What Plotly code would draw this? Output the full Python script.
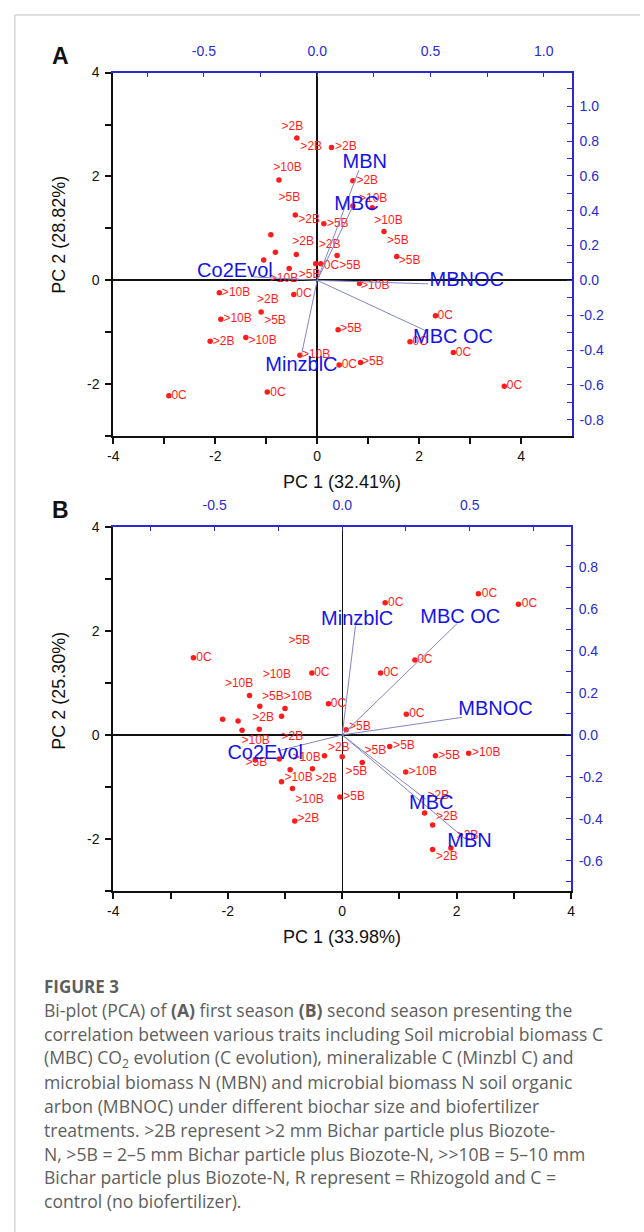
import plotly.graph_objects as go

W, H = 644, 1232

# ---------------- Panel A (first season) ----------------
a_score_x = [-0.40, 0.28, -0.75, 0.70, 0.70, 1.08, -0.43, 0.13, 1.31, -0.91, -0.82, -0.41,
             0.39, 1.56, -1.05, -0.55, -0.03, 0.07, 0.83, -1.92, -0.46, -1.10, -1.89, -1.40,
             -2.10, -0.34, -2.91, -0.98, 2.32, 0.41, 1.82, 2.67, 0.43, 0.85, 3.67]
a_score_y = [2.74, 2.56, 1.93, 1.92, 1.43, 1.40, 1.26, 1.09, 0.94, 0.88, 0.54, 0.50,
             0.48, 0.46, 0.39, 0.23, 0.32, 0.32, -0.06, -0.24, -0.27, -0.61, -0.75, -1.10,
             -1.17, -1.44, -2.22, -2.15, -0.68, -0.95, -1.18, -1.39, -1.63, -1.58, -2.04]

a_lab_x = [-0.70, -0.33, 0.35, -0.86, 0.77, -0.76, 0.82, -0.37, 0.19, 1.12, -0.49, 0.03,
           1.37, 1.60, 0.13, -0.36, -0.93, 0.86, -1.87, -1.18, -0.41, -1.04, -1.84, -1.35,
           -2.05, -0.30, -2.86, -0.92, 2.36, 0.45, 2.72, 0.48, 0.88, 3.72, 1.87]
a_lab_y = [2.96, 2.57, 2.57, 2.17, 1.92, 1.58, 1.57, 1.17, 1.09, 1.15, 0.73, 0.68,
           0.75, 0.38, 0.28, 0.11, 0.03, -0.11, -0.24, -0.37, -0.27, -0.79, -0.75, -1.17,
           -1.19, -1.44, -2.22, -2.16, -0.69, -0.94, -1.39, -1.63, -1.58, -2.04, -1.18]
a_lab_text = [">2B", ">2B", ">2B", ">10B", ">2B", ">5B", ">10B", ">2B", ">5B", ">10B", ">2B", ">2B",
              ">5B", ">5B", "0C>5B", ">5B", ">10B", ">10B", ">10B", ">2B", "0C", ">5B", ">10B", ">10B",
              ">2B", ">10B", "0C", "0C", "0C", ">5B", "0C", "0C", ">5B", "0C", "0C"]

a_vars = ["MBN", "MBC", "Co2Evol", "MBNOC", "MBC OC", "MinzblC"]
a_load_x = [0.184, 0.158, -0.28, 0.49, 0.48, -0.07]
a_load_y = [0.633, 0.427, 0.02, -0.02, -0.29, -0.43]
a_var_lab_x = [0.112, 0.075, -0.53, 0.496, 0.423, -0.229]
a_var_lab_y = [0.674, 0.433, 0.05, -0.006, -0.33, -0.491]

# ---------------- Panel B (second season) ----------------
b_score_x = [-2.60, -0.53, 0.67, 1.27, -0.24, 1.12, 0.07, 0.75, 2.38, 3.08,
             -1.62, -1.44, -1.00, -1.06, -2.09, -1.82, -1.75, -1.45,
             -1.52, -1.10, -0.91, -0.52, -1.06, -0.87, -0.31, 0.00, 0.35, 0.83, -0.04,
             1.11, 1.44, -0.83, 1.63, 2.21, 1.58, 1.90, 1.58]
b_score_y = [1.48, 1.19, 1.19, 1.44, 0.60, 0.40, 0.10, 2.54, 2.71, 2.51,
             0.76, 0.55, 0.51, 0.36, 0.30, 0.27, 0.09, 0.11,
             -0.48, -0.46, -0.67, -0.65, -0.90, -1.03, -0.40, -0.42, -0.53, -0.22, -1.19,
             -0.71, -1.50, -1.65, -0.40, -0.35, -1.73, -2.17, -2.20]

b_lab_x = [-0.94, -2.55, -1.39, -0.49, 0.72, 1.31, -2.05, -1.40, -0.20, -1.57, 1.17, 0.12,
           -1.76, -1.06, -0.25, 0.39, 0.89, -0.87, -1.69, -1.01, -0.47, 0.06, 1.16, -0.82,
           0.02, -0.78, 0.80, 2.44, 3.14, 1.68, 2.27, 1.49, 1.64, 2.00, 1.64]
b_lab_y = [1.81, 1.48, 1.16, 1.19, 1.19, 1.44, 0.97, 0.72, 0.60, 0.33, 0.40, 0.15,
           -0.11, -0.04, -0.25, -0.30, -0.22, -0.44, -0.54, -0.82, -0.84, -0.71, -0.72, -1.25,
           -1.19, -1.62, 2.54, 2.71, 2.51, -0.40, -0.35, -1.17, -1.57, -1.94, -2.35]
b_lab_text = [">5B", "0C", ">10B", "0C", "0C", "0C", ">10B", ">5B>10B", "0C", ">2B", "0C", ">5B",
              ">10B", ">2B", ">2B", ">5B", ">5B", ">10B", ">5B", ">10B", ">2B", ">5B", ">10B", ">10B",
              ">5B", ">2B", "0C", "0C", "0C", ">5B", ">10B", ">2B", ">2B", ">2B", ">2B"]

b_vars = ["MinzblC", "MBC OC", "MBNOC", "MBC", "MBN", "Co2Evol"]
b_load_x = [0.052, 0.451, 0.470, 0.329, 0.483, -0.25]
b_load_y = [0.52, 0.531, 0.084, -0.307, -0.496, -0.075]
b_var_lab_x = [-0.083, 0.306, 0.455, 0.262, 0.412, -0.45]
b_var_lab_y = [0.547, 0.559, 0.118, -0.331, -0.508, -0.091]

# axis ticks
a_xticks = [-4, -3, -2, -1, 0, 1, 2, 3, 4]
a_yticks = [-3, -2, -1, 0, 1, 2, 3, 4]
a_top_ticks = [-0.75, -0.5, -0.25, 0.0, 0.25, 0.5, 0.75, 1.0]
a_top_labels = ["", "-0.5", "", "0.0", "", "0.5", "", "1.0"]
a_right_ticks = [-0.8, -0.7, -0.6, -0.5, -0.4, -0.3, -0.2, -0.1, 0.0, 0.1, 0.2, 0.3, 0.4, 0.5,
                 0.6, 0.7, 0.8, 0.9, 1.0, 1.1]
b_xticks = [-4, -3, -2, -1, 0, 1, 2, 3, 4]
b_yticks = [-3, -2, -1, 0, 1, 2, 3, 4]
b_top_ticks = [-0.75, -0.5, -0.25, 0.0, 0.25, 0.5, 0.75]
b_top_labels = ["", "-0.5", "", "0.0", "", "0.5", ""]
b_right_ticks = [-0.7, -0.6, -0.5, -0.4, -0.3, -0.2, -0.1, 0.0, 0.1, 0.2, 0.3, 0.4, 0.5,
                 0.6, 0.7, 0.8, 0.9]

caption_title = "FIGURE 3"
caption_lines = [
    "Bi-plot (PCA) of <b>(A)</b> first season <b>(B)</b> second season presenting the",
    "correlation between various traits including Soil microbial biomass C",
    "(MBC) CO<sub>2</sub> evolution (C evolution), mineralizable C (Minzbl C) and",
    "microbial biomass N (MBN) and microbial biomass N soil organic",
    "arbon (MBNOC) under different biochar size and biofertilizer",
    "treatments. &gt;2B represent &gt;2 mm Bichar particle plus Biozote-",
    "N, &gt;5B = 2–5 mm Bichar particle plus Biozote-N, &gt;&gt;10B = 5–10 mm",
    "Bichar particle plus Biozote-N, R represent = Rhizogold and C =",
    "control (no biofertilizer).",
]

RED = "#ff1c1c"
BLUE = "#1414e6"
AXBLUE = "#2a2ad0"
LOADC = "#8484c4"
FONT = "Liberation Sans, Arial, sans-serif"


def even_labels(vals):
    return [("%d" % v) if v % 2 == 0 else "" for v in vals]


def dec_labels(vals):
    out = []
    for v in vals:
        k = int(round(v * 10))
        out.append(("%.1f" % v).replace("-0.0", "0.0") if k % 2 == 0 else "")
    return out


def py(Y):
    return 1 - Y / H


def px(X):
    return X / W


fig = go.Figure()


def add_panel(sx, sy, lx, ly, lt, vars_, ldx, ldy, vlx, vly, xa, ya, xa2, ya2):
    fig.add_trace(go.Scatter(x=sx, y=sy, mode="markers", xaxis=xa, yaxis=ya,
                             marker=dict(color=RED, size=5.5), hoverinfo="skip", showlegend=False))
    fig.add_trace(go.Scatter(x=lx, y=ly, text=lt, mode="text", textposition="middle right",
                             xaxis=xa, yaxis=ya, textfont=dict(color=RED, size=12, family=FONT),
                             hoverinfo="skip", showlegend=False))
    lxs, lys = [], []
    for x, y in zip(ldx, ldy):
        lxs += [0, x, None]
        lys += [0, y, None]
    fig.add_trace(go.Scatter(x=lxs, y=lys, mode="lines", xaxis=xa2, yaxis=ya2,
                             line=dict(color=LOADC, width=1), hoverinfo="skip", showlegend=False))
    fig.add_trace(go.Scatter(x=vlx, y=vly, text=vars_, mode="text", textposition="middle right",
                             xaxis=xa2, yaxis=ya2, textfont=dict(color=BLUE, size=20, family=FONT),
                             hoverinfo="skip", showlegend=False))


add_panel(a_score_x, a_score_y, a_lab_x, a_lab_y, a_lab_text, a_vars, a_load_x, a_load_y,
          a_var_lab_x, a_var_lab_y, "x", "y", "x2", "y2")
add_panel(b_score_x, b_score_y, b_lab_x, b_lab_y, b_lab_text, b_vars, b_load_x, b_load_y,
          b_var_lab_x, b_var_lab_y, "x3", "y3", "x4", "y4")

# geometry (pixels)
A_left, A_right, A_top, A_bot = 109, 575, 65, 431
B_left, B_right, B_top, B_bot = 109, 574, 522, 889
a_x2 = [-4 * 51.75 / 230, 5 * 51.75 / 230]
a_y2 = [-3 * 52.2 / 175, 4 * 52.2 / 175]
b_x4 = [-4 * 58.1 / 259, 4 * 58.1 / 259]
b_y4 = [-3 * 52.5 / 211.7, 4 * 52.5 / 211.7]

tickfont_k = dict(family=FONT, size=14, color="#111111")
tickfont_b = dict(family=FONT, size=14, color=AXBLUE)


def main_ax(dom, rng, ticks, anchor, zl, standoff):
    return dict(domain=dom, range=rng, anchor=anchor, showgrid=False, zeroline=True,
                zerolinecolor="#111111", zerolinewidth=zl, showline=True, linecolor="#111111",
                linewidth=2, ticks="outside", ticklen=6, tickwidth=1.5, tickcolor="#111111",
                tickmode="array", tickvals=ticks, ticktext=even_labels(ticks),
                tickfont=tickfont_k, fixedrange=True, ticklabelstandoff=standoff)


def top_x(rng, ticks, labels, overlay, anchor):
    return dict(overlaying=overlay, side="top", anchor=anchor, range=rng, showgrid=False,
                zeroline=False, showline=True, linecolor=AXBLUE, linewidth=1.5,
                ticks="inside", ticklen=5, tickwidth=1.2, tickcolor=AXBLUE,
                tickmode="array", tickvals=ticks, ticktext=labels, tickfont=tickfont_b,
                fixedrange=True, ticklabelstandoff=9)


def right_y(rng, ticks, overlay, anchor):
    return dict(overlaying=overlay, side="right", anchor=anchor, range=rng, showgrid=False,
                zeroline=False, showline=True, linecolor=AXBLUE, linewidth=1.5,
                ticks="inside", ticklen=5, tickwidth=1.2, tickcolor=AXBLUE,
                tickmode="array", tickvals=ticks, ticktext=dec_labels(ticks), tickfont=tickfont_b,
                fixedrange=True, ticklabelstandoff=3)


layout = dict(
    width=W, height=H, autosize=False,
    margin=dict(l=0, r=0, t=0, b=0, pad=0),
    paper_bgcolor="white", plot_bgcolor="white",
    showlegend=False,
    xaxis=main_ax([px(A_left), px(A_right)], [-4, 5], a_xticks, "y", 1.5, 0),
    yaxis=main_ax([py(A_bot), py(A_top)], [-3, 4], a_yticks, "x", 1.8, 3),
    xaxis2=top_x(a_x2, a_top_ticks, a_top_labels, "x", "y"),
    yaxis2=right_y(a_y2, a_right_ticks, "y", "x"),
    xaxis3=main_ax([px(B_left), px(B_right)], [-4, 4], b_xticks, "y3", 1.2, 0),
    yaxis3=main_ax([py(B_bot), py(B_top)], [-3, 4], b_yticks, "x3", 2.2, 3),
    xaxis4=top_x(b_x4, b_top_ticks, b_top_labels, "x3", "y3"),
    yaxis4=right_y(b_y4, b_right_ticks, "y3", "x3"),
)
fig.update_layout(**layout)

ann = []


def add_text(text, X, Y, size, color="#111111", angle=0, xanchor="center", family=FONT):
    ann.append(dict(text=text, x=px(X), y=py(Y), xref="paper", yref="paper", showarrow=False,
                    xanchor=xanchor, yanchor="middle", textangle=angle,
                    font=dict(size=size, color=color, family=family)))


add_text("<b>A</b>", 55, 48, 23)
add_text("<b>B</b>", 55, 505, 23)
add_text("PC 2 (28.82%)", 53, 228, 18, angle=-90)
add_text("PC 1 (32.41%)", 341, 477, 18)
add_text("PC 2 (25.30%)", 53, 687, 18, angle=-90)
add_text("PC 1 (33.98%)", 341, 935, 18)

CAP = "Open Sans, Noto Sans, sans-serif"
CAPC = "#5e5e5e"
add_text("<b>" + caption_title + "</b>", 37, 985, 17, color=CAPC, xanchor="left", family=CAP)
for i, line in enumerate(caption_lines):
    add_text(line, 37, 1009 + 24 * i, 17.6, color=CAPC, xanchor="left", family=CAP)

fig.update_layout(annotations=ann)

fig.update_layout(shapes=[
    dict(type="line", xref="paper", yref="paper", x0=px(9), x1=1, y0=py(7), y1=py(7),
         line=dict(color="#d6d6d6", width=1.5)),
    dict(type="line", xref="paper", yref="paper", x0=px(9), x1=px(9), y0=py(7), y1=0,
         line=dict(color="#d6d6d6", width=1.5)),
])

fig.write_html("out.html", config={"displayModeBar": False},
               post_script="document.body.style.margin='0';document.body.style.overflow='hidden';")
